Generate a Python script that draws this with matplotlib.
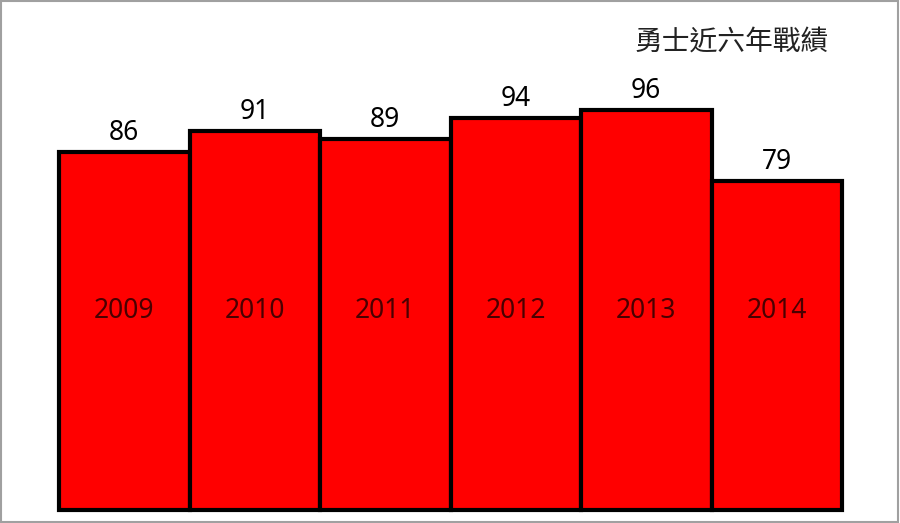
import matplotlib.pyplot as plt
from matplotlib.patches import Rectangle

# data
years = ['2009', '2010', '2011', '2012', '2013', '2014']
wins = [86, 91, 89, 94, 96, 79]
title = '勇士近六年戰績'

plt.rcParams['font.family'] = ['Noto Sans', 'Noto Sans CJK TC', 'DejaVu Sans']

W, H = 900, 523
fig = plt.figure(figsize=(W / 100, H / 100), dpi=100)
fig.patch.set_facecolor('white')

# axes placed in pixel terms: bars span x 59..842, baseline at y 510
left, right, bottom = 59, 842, 510
ax = fig.add_axes([left / W, (H - bottom) / H, (right - left) / W, bottom / H])
px_per_unit = 400 / 96.0
ax.set_ylim(0, bottom / px_per_unit)
ax.set_xlim(-0.5, len(years) - 0.5)
ax.axis('off')

x = list(range(len(years)))
bars = ax.bar(x, wins, width=1.0, color='#ff0000', edgecolor='black', linewidth=3)
for b in bars:
    b.set_clip_on(False)

for xi, v, yr in zip(x, wins, years):
    ax.text(xi, v + 2.9, str(v), ha='center', va='baseline', fontsize=19, color='black')
    ax.text(xi, 46.0, yr, ha='center', va='baseline', fontsize=19, color='#4a0000')

fig.text(732 / W, 1 - 43 / H, title, ha='center', va='center', fontsize=20,
         family=['Noto Sans CJK TC', 'DejaVu Sans'], color='#222222')

# grey frame around the picture
fig.patches.append(Rectangle((0.001, 0.002), 0.997, 0.996, transform=fig.transFigure,
                             fill=False, edgecolor='#a0a0a0', linewidth=1.5))

fig.savefig('out.png', dpi=100)
